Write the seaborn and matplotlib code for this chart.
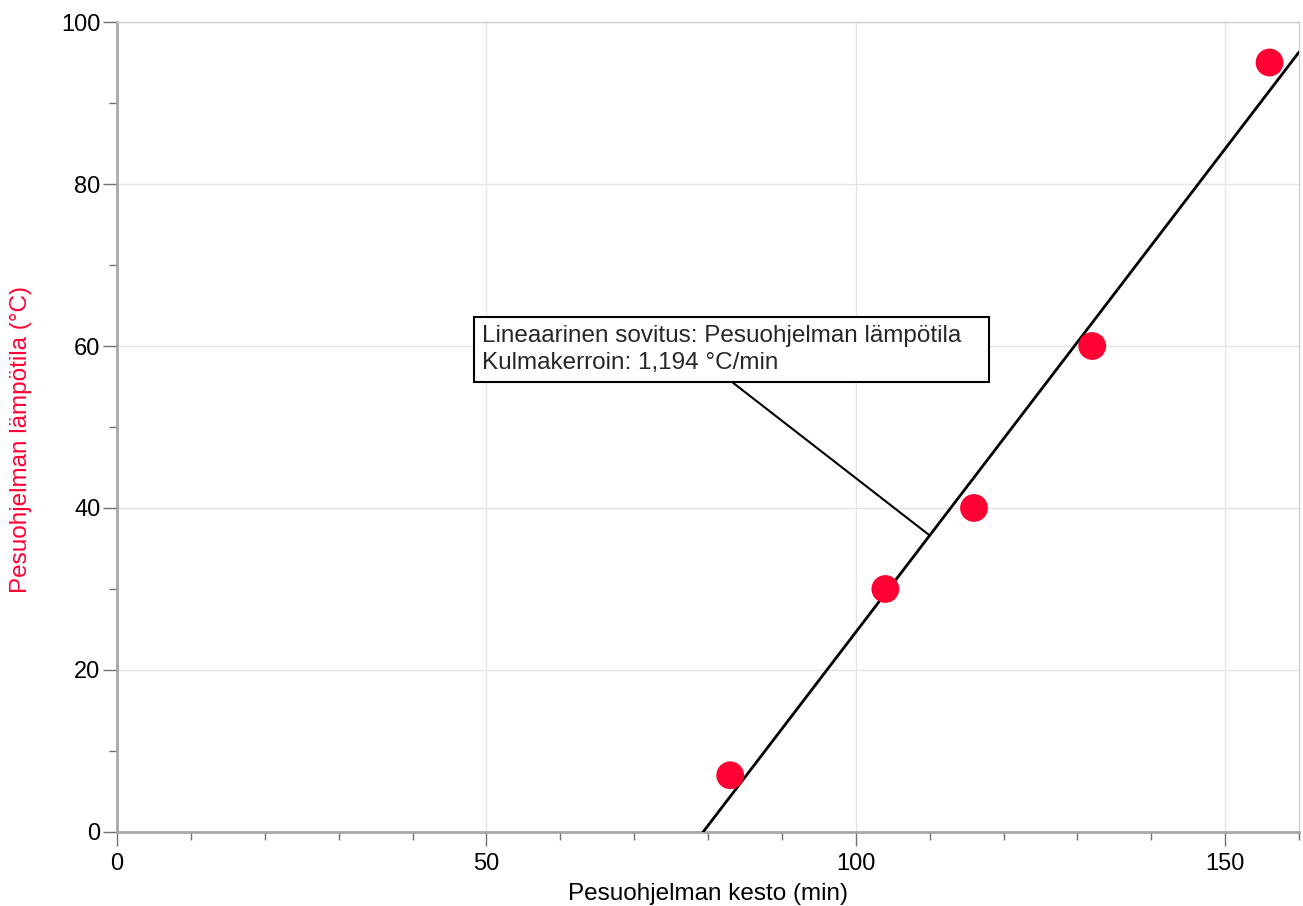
import numpy as np
import pandas as pd
import seaborn as sns
import matplotlib
matplotlib.use("Agg")
import matplotlib.pyplot as plt
from matplotlib.ticker import MultipleLocator

# Wash program duration vs. temperature
duration_min = [83, 104, 116, 132, 156]
temperature_c = [7, 30, 40, 60, 95]

x_label = "Pesuohjelman kesto (min)"
y_label = "Pesuohjelman lämpötila (°C)"
fit_title = "Lineaarinen sovitus: Pesuohjelman lämpötila"

RED = "#ff0033"
AXIS_GRAY = "#a8a8a8"

sns.set_theme(style="white")
plt.rcParams["font.family"] = ["Liberation Sans", "DejaVu Sans"]

df = pd.DataFrame({"kesto": duration_min, "lampo": temperature_c})

fig = plt.figure(figsize=(13.03, 9.06), dpi=100)
ax = fig.add_axes([0.0898, 0.0817, 0.9072, 0.894])

# Linear fit
slope, intercept = np.polyfit(df["kesto"], df["lampo"], 1)
xs = np.array([0.0, 160.0])
ax.plot(xs, slope * xs + intercept, color="black", lw=2, zorder=3)

sns.scatterplot(data=df, x="kesto", y="lampo", ax=ax, color=RED, s=400,
                edgecolor="none", zorder=4, legend=False)

ax.set_xlim(0, 160)
ax.set_ylim(0, 100)
ax.xaxis.set_major_locator(MultipleLocator(50))
ax.xaxis.set_minor_locator(MultipleLocator(10))
ax.yaxis.set_major_locator(MultipleLocator(20))
ax.yaxis.set_minor_locator(MultipleLocator(10))

ax.grid(True, which="major", color="#e4e4e4", lw=1)
ax.set_axisbelow(True)

for side in ("left", "bottom"):
    ax.spines[side].set_color(AXIS_GRAY)
    ax.spines[side].set_linewidth(2)
for side in ("top", "right"):
    ax.spines[side].set_color("#d0d0d0")
    ax.spines[side].set_linewidth(1)

ax.tick_params(which="major", direction="out", length=10, width=1,
               color="#707070", labelsize=17, labelcolor="black", pad=3)
ax.tick_params(which="minor", direction="out", length=5.5, width=1,
               color="#707070")
ax.tick_params(axis="y", which="major", pad=2)
ax.tick_params(axis="x", which="major", pad=5)
ax.tick_params(axis="x", which="both", bottom=True)
ax.tick_params(axis="y", which="both", left=True)

ax.set_xlabel(x_label, fontsize=17.5, color="black", labelpad=6)
ax.set_ylabel(y_label, fontsize=17.5, color=RED)
ax.yaxis.set_label_coords(-0.072, 0.484)

slope_txt = f"{slope:.3f}".replace(".", ",")
px = 110.0
ax.annotate(f"{fit_title}   \nKulmakerroin: {slope_txt} °C/min",
            xy=(px, slope * px + intercept), xycoords="data",
            xytext=(49.4, 62.6), textcoords="data",
            ha="left", va="top", fontsize=17.5, linespacing=1.3,
            bbox=dict(boxstyle="square,pad=0.33", fc="white", ec="black", lw=1.5),
            arrowprops=dict(arrowstyle="-", color="black", lw=1.5,
                            shrinkA=0, shrinkB=0, relpos=(0.48, 0.0)),
            zorder=5)

fig.savefig("out.png", dpi=100)
